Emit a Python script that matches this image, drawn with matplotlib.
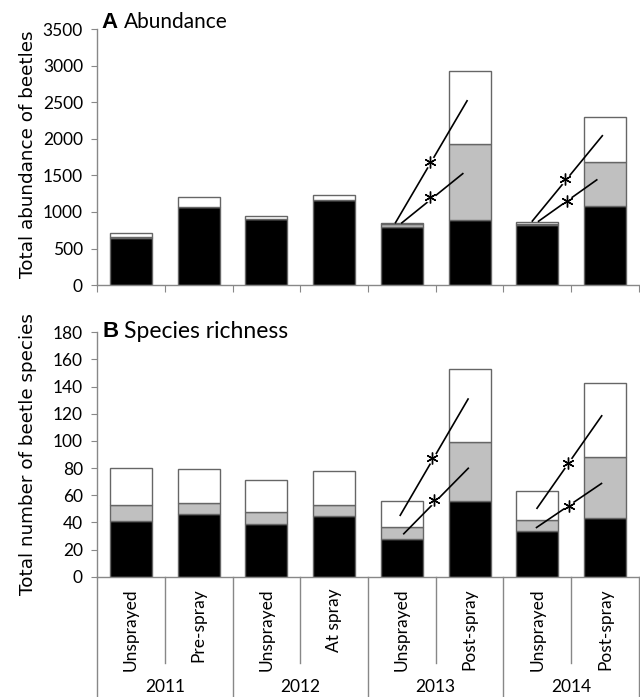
import numpy as np
import matplotlib
matplotlib.use('Agg')
import matplotlib.pyplot as plt
import matplotlib.transforms as mtransforms

# categories
cats = ['Unsprayed', 'Pre-spray', 'Unsprayed', 'At spray',
        'Unsprayed', 'Post-spray', 'Unsprayed', 'Post-spray']
years = ['2011', '2012', '2013', '2014']

# abundance stack segments (bottom -> top)
ab_black = [650, 1067, 900, 1160, 790, 885, 822, 1085]
ab_grey = [5, 5, 5, 5, 40, 1045, 18, 593]
ab_white = [55, 128, 35, 70, 25, 997, 20, 620]

# species richness stack segments
sr_black = [41, 46, 39, 45, 28, 56, 34, 43]
sr_grey = [12, 8.5, 9, 8, 8.5, 43, 8, 45.5]
sr_white = [27, 24.5, 23, 25, 19.5, 54, 21, 54.5]

# significance lines (x0, y0, x1, y1) and asterisk positions
ab_sig = [(3.90, 844, 4.97, 2531), (3.99, 844, 4.91, 1532),
          (5.92, 867, 6.97, 2052), (6.01, 867, 6.89, 1446)]
ab_star = [(4.41, 1687), (4.41, 1208), (6.41, 1450), (6.44, 1153)]
sr_sig = [(3.97, 44.7, 4.985, 131.4), (4.02, 31.2, 4.99, 80.3),
          (5.99, 49.9, 6.96, 119), (5.98, 35.9, 6.96, 69)]
sr_star = [(4.44, 87.2), (4.48, 56.5), (6.46, 84), (6.47, 52.3)]

BODY = 'Lato'
EDGE = '#666666'
AXC = '#888888'

fig = plt.figure(figsize=(6.4, 6.97), dpi=100)
ax1 = fig.add_axes([0.152, 0.591, 0.846, 0.367])
ax2 = fig.add_axes([0.152, 0.1726, 0.846, 0.3506])

x = np.arange(len(cats))


def draw_stack(ax, black, grey, white):
    black = np.array(black); grey = np.array(grey); white = np.array(white)
    kw = dict(width=0.62, edgecolor=EDGE, linewidth=1.0, zorder=2)
    ax.bar(x, black, color='black', **kw)
    ax.bar(x, grey, bottom=black, color='#c0c0c0', **kw)
    ax.bar(x, white, bottom=black + grey, color='white', **kw)


def draw_sig(ax, lines, stars):
    for (x0, y0, x1, y1), (sx, sy) in zip(lines, stars):
        ax.plot([x0, x1], [y0, y1], color='black', lw=1.2, zorder=3,
                solid_capstyle='butt')
        # white patch breaks the line, asterisk on top
        ax.plot(sx, sy, marker='o', ms=8, color='white', mec='none', zorder=4)
        ax.plot(sx, sy, marker=(6, 2, 0), ms=8.5, color='black', mew=1.0,
                zorder=5)


def style(ax, ymax, step):
    ax.set_xlim(-0.5, 7.5)
    ax.set_ylim(0, ymax)
    ax.set_yticks(np.arange(0, ymax + 1, step))
    for s in ['top', 'right']:
        ax.spines[s].set_visible(False)
    for s in ['left', 'bottom']:
        ax.spines[s].set_color(AXC)
        ax.spines[s].set_linewidth(1.0)
    ax.tick_params(axis='y', length=4.3, color=AXC, labelsize=12.5, pad=6)
    for lab in ax.get_yticklabels():
        lab.set_family(BODY)


draw_stack(ax1, ab_black, ab_grey, ab_white)
draw_sig(ax1, ab_sig, ab_star)
style(ax1, 3500, 500)
ax1.set_xticks(np.arange(-0.5, 8, 1))
ax1.set_xticklabels([])
ax1.tick_params(axis='x', length=5, color=AXC)
ax1.set_ylabel('Total abundance of beetles', family='DejaVu Sans',
               fontsize=13.2)
ax1.yaxis.set_label_coords(-0.111, 0.51)

draw_stack(ax2, sr_black, sr_grey, sr_white)
draw_sig(ax2, sr_sig, sr_star)
style(ax2, 180, 20)
ax2.set_xticks([])
ax2.set_ylabel('Total number of beetle species', family='DejaVu Sans',
               fontsize=13.2)
ax2.yaxis.set_label_coords(-0.111, 0.50)

# two-level category axis
tr = mtransforms.blended_transform_factory(ax2.transData, ax2.transAxes)
for k, b in enumerate(np.arange(-0.5, 8, 1)):
    bottom = -0.50 if k % 2 == 0 else -0.354
    ax2.plot([b, b], [0, bottom], color=AXC, lw=1.0, transform=tr,
             clip_on=False)
for i, c in enumerate(cats):
    ax2.text(i, -0.046, c, rotation=90, ha='center', va='top', transform=tr,
             family=BODY, fontsize=12.5)
for j, yr in enumerate(years):
    ax2.text(2 * j + 0.5, -0.45, yr, ha='center', va='center', transform=tr,
             family=BODY, fontsize=12.5)

# panel titles
fig.text(0.158, 0.968, 'A', family='Liberation Sans', weight='bold',
         fontsize=16, va='center')
fig.text(0.194, 0.968, 'Abundance', family=BODY, fontsize=15, va='center')
fig.text(0.160, 0.524, 'B', family='Liberation Sans', weight='bold',
         fontsize=16, va='center')
fig.text(0.194, 0.524, 'Species richness', family=BODY, fontsize=16.5,
         va='center')

fig.savefig('out.png', dpi=100)
